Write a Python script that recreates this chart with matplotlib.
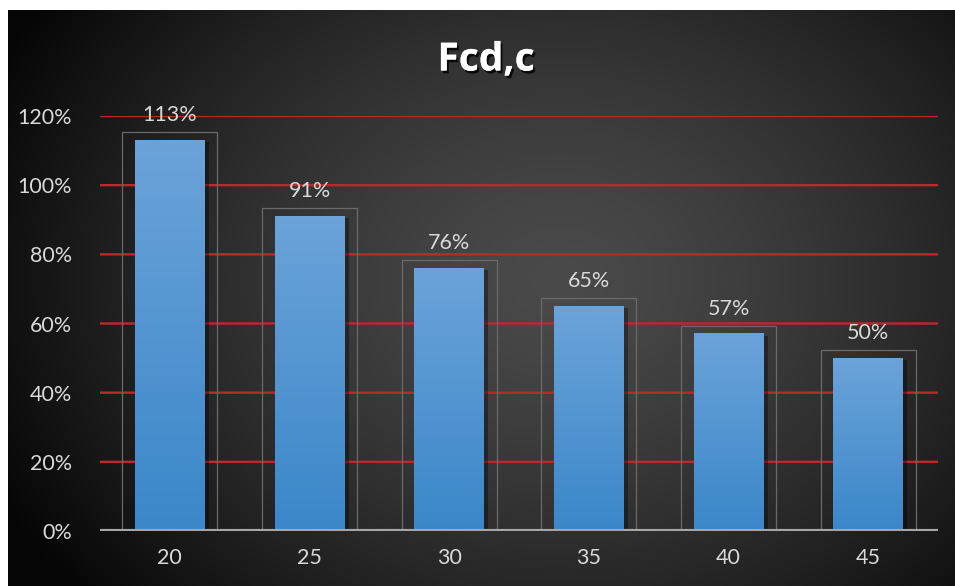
import matplotlib.pyplot as plt
import matplotlib.patheffects as pe
from matplotlib.patches import Rectangle
import numpy as np

# chart data
categories = ['20', '25', '30', '35', '40', '45']
values = [1.13, 0.91, 0.76, 0.65, 0.57, 0.50]
labels = ['113%', '91%', '76%', '65%', '57%', '50%']
yticks = [0, 0.2, 0.4, 0.6, 0.8, 1.0, 1.2]
ytick_labels = ['0%', '20%', '40%', '60%', '80%', '100%', '120%']
title = 'Fcd,c'

plt.rcParams['font.family'] = ['Lato', 'DejaVu Sans']

W, H = 955, 586
fig = plt.figure(figsize=(W / 100, H / 100), dpi=100)
fig.patch.set_facecolor('white')

# dark background with a soft radial glow
bg = fig.add_axes([8 / W, 0, 1 - 8 / W, 1 - 10 / H])
bg.set_axis_off()
yy, xx = np.mgrid[0:300, 0:500]
cx, cy = 290, 140
r = np.sqrt(((xx - cx) / 330.0) ** 2 + ((yy - cy) / 260.0) ** 2)
shade = np.clip(0.29 - 0.27 * r ** 1.4, 0.02, 1)
bg.imshow(np.dstack([shade] * 3), aspect='auto', extent=[0, 1, 0, 1], interpolation='bilinear')

ax = fig.add_axes([100 / W, (H - 531) / H, 838 / W, 415 / H])
ax.set_facecolor('none')
x = np.arange(len(categories))
ax.set_xlim(-0.5, len(categories) - 0.5)
ax.set_ylim(0, 1.2)

# red gridlines
for t in yticks[1:]:
    ax.axhline(t, color='#c0272d', lw=1.7, zorder=1, snap=False)

bw = 0.5
grad = np.linspace(1, 0, 256).reshape(-1, 1)
top_c = np.array([0.42, 0.64, 0.85])
bot_c = np.array([0.23, 0.53, 0.79])
for xi, v in zip(x, values):
    # faint outline box around each bar
    ax.add_patch(Rectangle((xi - 0.34, -0.005), 0.68, v + 0.028, fill=False,
                           ec='#6a6a6a', lw=0.9, zorder=2))
    # shadow
    ax.add_patch(Rectangle((xi - bw / 2 + 0.03, 0), bw, v - 0.005,
                           fc='black', alpha=0.35, lw=0, zorder=2))
    img = grad * top_c + (1 - grad) * bot_c
    ax.imshow(img.reshape(256, 1, 3), extent=[xi - bw / 2, xi + bw / 2, 0, v],
              aspect='auto', zorder=3, interpolation='bilinear')
for xi, v, lab in zip(x, values, labels):
    ax.annotate(lab, (xi, v), xytext=(0, 11), textcoords='offset points',
                ha='center', va='bottom', color='#d9d9d9', fontsize=15.5)

ax.axhline(0, color='#a6a6a6', lw=3, zorder=4)

ax.set_xticks(x)
ax.set_xticklabels(categories)
ax.set_yticks(yticks)
ax.set_yticklabels(ytick_labels)
ax.tick_params(length=0, labelsize=15.5, colors='#d9d9d9')
ax.tick_params(axis='x', pad=12)
ax.tick_params(axis='y', pad=20)
for s in ax.spines.values():
    s.set_visible(False)

fig.text(486 / W, 1 - 60 / H, title, ha='center', va='center', color='white',
         fontsize=28, fontweight='bold', family=['Open Sans', 'DejaVu Sans'],
         path_effects=[pe.withSimplePatchShadow(offset=(1.5, -2), shadow_rgbFace='black', alpha=0.8),
                       pe.Normal()])

fig.savefig('out.png', dpi=100)
